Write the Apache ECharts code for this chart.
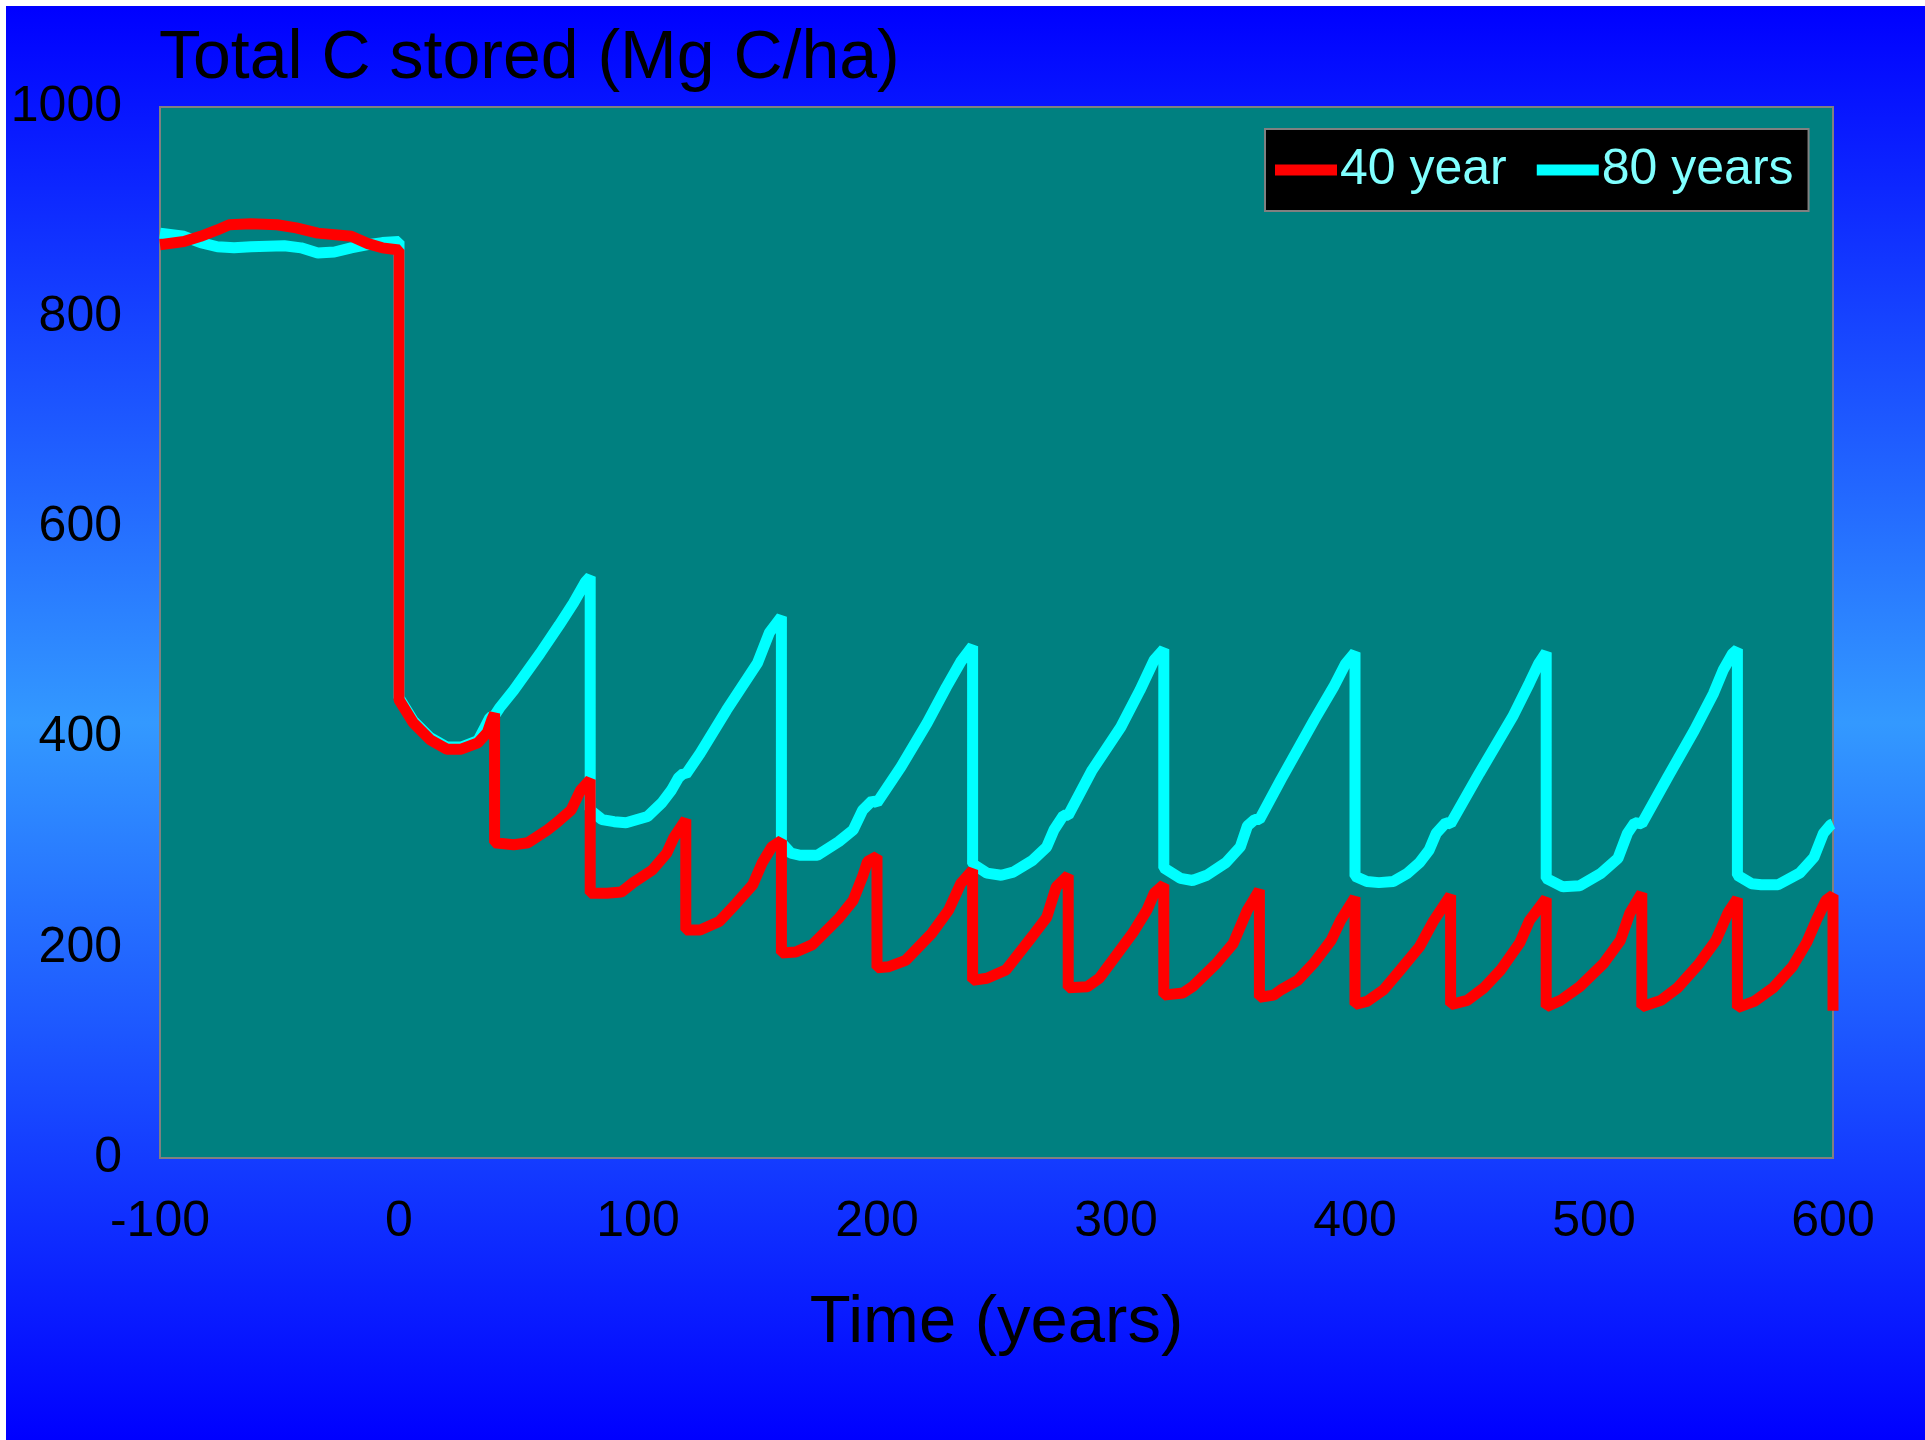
<!DOCTYPE html>
<html>
<head>
<meta charset="utf-8">
<script src="https://cdn.jsdelivr.net/npm/echarts@6/dist/echarts.min.js"></script>
<style>
  html, body { margin: 0; padding: 0; background: #ffffff; }
  #chart { position: absolute; left: 6px; top: 6px; width: 1919px; height: 1434px; }
</style>
</head>
<body>
<div id="chart"></div>
<script>
const titleText = 'Total C stored (Mg C/ha)';
const xAxisTitle = 'Time (years)';
const seriesNames = ['40 year', '80 years'];

// 40-year rotation: [year, Mg C/ha]
const c40 = [
  [-100,869],[-90,872],[-83,877],[-76,883],[-71,888],[-62,889],[-51,888],[-43,885],[-34,880],[-20,877],[-13,870],[-7,866],[0,864],
  [0,436],[6,414],[13,398],[20,389],[26,389],[33,395],[37,405],[39,418],[40,423],
  [40,300],[48,298],[54,300],[62,312],[66,319],[72,331],[76,350],[80,360],
  [80,252],[87,252],[93,253],[98,262],[106,274],[112,290],[115,305],[120,322],
  [120,217],[126,217],[134,225],[141,242],[148,260],[152,281],[156,296],[160,302],
  [160,195],[166,196],[173,203],[184,228],[190,245],[194,268],[196,282],[200,287],
  [200,181],[205,182],[212,188],[223,214],[230,236],[235,261],[240,274],
  [240,169],[246,171],[254,179],[265,211],[271,229],[275,258],[280,269],
  [280,162],[288,163],[293,171],[307,214],[313,236],[316,252],[320,260],
  [320,155],[328,157],[332,163],[342,185],[349,204],[355,236],[360,255],
  [360,153],[366,155],[369,160],[376,169],[383,186],[390,207],[394,226],[400,248],
  [400,146],[405,149],[412,160],[419,179],[427,201],[433,226],[440,250],
  [440,146],[447,150],[454,162],[461,179],[469,205],[473,226],[480,247],
  [480,144],[486,150],[494,163],[504,185],[511,207],[515,233],[520,252],
  [520,144],[528,150],[535,162],[544,185],[551,207],[556,233],[560,247],
  [560,143],[567,149],[575,162],[583,182],[589,205],[593,226],[597,245],[600,250],[600,140]
];

// 80-year rotation: [year, Mg C/ha]
const c80 = [
  [-100,880],[-90,877],[-83,871],[-76,867],[-69,866],[-62,867],[-48,868],[-41,866],[-34,861],[-27,862],[-20,866],[-13,869],[-7,871],[0,872],
  [0,438],[6,416],[13,400],[20,391],[26,391],[33,397],[36,410],[38,419],[40,421],[42,428],[48,445],[59,480],[67,507],[73,528],[78,548],[80,553],
  [80,331],[85,322],[90,320],[95,319],[104,325],[110,338],[114,350],[117,362],[119,366],[120,365],[126,385],[137,426],[150,471],[155,500],[160,515],
  [160,300],[164,290],[168,288],[175,288],[184,301],[190,312],[194,331],[198,340],[200,338],[210,372],[221,414],[229,448],[235,472],[240,487],
  [240,280],[246,271],[252,269],[257,272],[265,283],[271,296],[274,312],[278,326],[280,326],[290,369],[302,410],[310,445],[316,474],[320,484],
  [320,276],[327,266],[332,264],[338,269],[346,281],[352,296],[355,316],[358,322],[360,322],[369,360],[383,417],[391,448],[396,470],[400,481],
  [400,268],[405,263],[410,262],[416,263],[422,271],[427,281],[431,293],[434,309],[438,319],[440,318],[452,366],[466,420],[473,452],[477,471],[480,481],
  [480,266],[487,258],[494,259],[503,271],[510,285],[514,309],[517,319],[520,318],[531,363],[542,407],[550,442],[554,464],[558,480],[560,484],
  [560,269],[566,261],[570,260],[577,260],[586,271],[592,286],[596,309],[599,317],[600,318]
];

const FONT = '"Liberation Sans", Arial, Helvetica, sans-serif';

const chart = echarts.init(document.getElementById('chart'), null, { renderer: 'canvas' });
chart.setOption({
  animation: false,
  backgroundColor: {
    type: 'linear', x: 0, y: 0, x2: 0, y2: 1,
    colorStops: [
      { offset: 0, color: '#0000ff' },
      { offset: 0.5, color: '#3399ff' },
      { offset: 1, color: '#0000ff' }
    ]
  },
  title: {
    text: titleText,
    left: 153,
    top: 19,
    padding: 0,
    textStyle: { fontFamily: FONT, fontSize: 68, fontWeight: 'normal', color: '#000000' }
  },
  legend: {
    data: seriesNames,
    left: 1259,
    top: 123,
    orient: 'horizontal',
    padding: [16, 15, 16, 10],
    itemGap: 30,
    itemWidth: 62,
    itemHeight: 11,
    icon: 'rect',
    backgroundColor: '#000000',
    borderColor: '#808080',
    borderWidth: 2,
    borderRadius: 0,
    textStyle: { fontFamily: FONT, fontSize: 50, color: '#80ffff', padding: [0, 0, 0, -2] }
  },
  grid: {
    show: true,
    left: 154,
    top: 101,
    right: 92,
    bottom: 282,
    backgroundColor: '#008080',
    borderColor: '#808080',
    borderWidth: 2,
    containLabel: false,
    outerBoundsMode: 'none'
  },
  xAxis: {
    type: 'value',
    min: -100,
    max: 600,
    interval: 100,
    name: xAxisTitle,
    nameLocation: 'middle',
    nameGap: 132,
    nameTextStyle: { fontFamily: FONT, fontSize: 67, color: '#000000' },
    axisLine: { show: false },
    axisTick: { show: false },
    splitLine: { show: false },
    axisLabel: { fontFamily: FONT, fontSize: 50, color: '#000000', margin: 39, formatter: v => String(v) }
  },
  yAxis: {
    type: 'value',
    min: 0,
    max: 1000,
    interval: 200,
    axisLine: { show: false },
    axisTick: { show: false },
    splitLine: { show: false },
    axisLabel: { fontFamily: FONT, fontSize: 50, color: '#000000', margin: 38, formatter: v => String(v) }
  },
  series: [
    {
      name: '80 years',
      type: 'line',
      data: c80,
      showSymbol: false,
      clip: false,
      color: '#00ffff',
      lineStyle: { width: 11, color: '#00ffff', join: 'bevel' }
    },
    {
      name: '40 year',
      type: 'line',
      data: c40,
      showSymbol: false,
      clip: false,
      color: '#ff0000',
      lineStyle: { width: 11, color: '#ff0000', join: 'bevel' }
    }
  ]
});
</script>
</body>
</html>
